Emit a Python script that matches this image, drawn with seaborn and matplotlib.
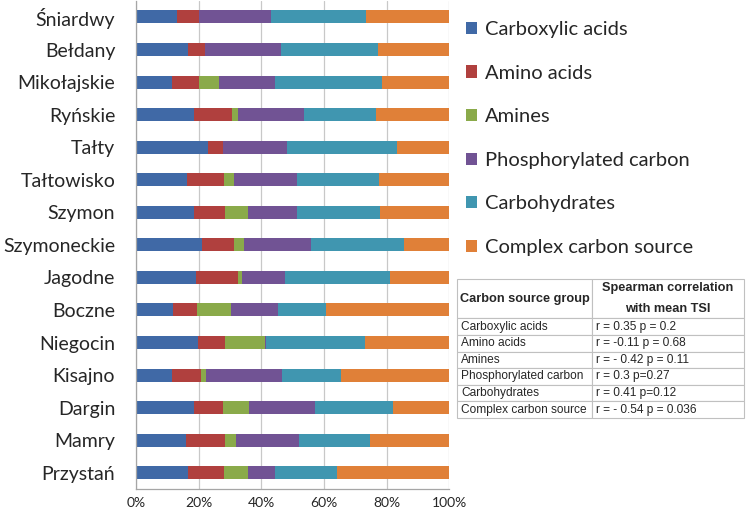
import numpy as np
import pandas as pd
import matplotlib
matplotlib.use("Agg")
import matplotlib.pyplot as plt
from matplotlib.patches import Patch
from matplotlib.ticker import FixedLocator, PercentFormatter
import seaborn as sns

lakes = ["Śniardwy", "Bełdany", "Mikołajskie", "Ryńskie", "Tałty", "Tałtowisko",
         "Szymon", "Szymoneckie", "Jagodne", "Boczne", "Niegocin", "Kisajno",
         "Dargin", "Mamry", "Przystań"]

groups = ["Carboxylic acids", "Amino acids", "Amines", "Phosphorylated carbon",
          "Carbohydrates", "Complex carbon source"]

carboxylic = [13.2, 16.6, 11.6, 18.4, 23.0, 16.3, 18.4, 20.9, 19.0, 11.8, 19.9, 11.6, 18.6, 15.9, 16.6]
amino = [6.8, 5.5, 8.5, 12.2, 4.6, 11.7, 10.0, 10.4, 13.6, 7.7, 8.5, 9.1, 9.3, 12.6, 11.4]
amines = [0.0, 0.0, 6.5, 1.8, 0.0, 3.2, 7.3, 3.1, 1.1, 10.9, 12.7, 1.6, 8.1, 3.3, 7.7]
phosphorylated = [23.0, 24.2, 17.8, 21.2, 20.5, 20.1, 15.7, 21.5, 13.9, 14.9, 0.3, 24.4, 21.0, 20.3, 8.6]
carbohydrates = [30.4, 30.9, 34.2, 23.0, 35.3, 26.1, 26.5, 29.5, 33.5, 15.4, 31.8, 18.8, 25.1, 22.6, 19.8]
complex_src = [26.6, 22.8, 21.4, 23.4, 16.6, 22.6, 22.1, 14.6, 18.9, 39.3, 26.8, 34.5, 17.9, 25.3, 35.9]

x_ticks = [0, 20, 40, 60, 80, 100]

table_rows = ["Carboxylic acids", "Amino acids", "Amines", "Phosphorylated carbon",
              "Carbohydrates", "Complex carbon source"]
table_vals = ["r = 0.35 p = 0.2", "r = -0.11 p = 0.68", "r = - 0.42 p = 0.11",
              "r = 0.3 p=0.27", "r = 0.41 p=0.12", "r = - 0.54 p = 0.036"]

colors = ["#4069A6", "#B0403E", "#8AAA4A", "#715394", "#4096B0", "#E08038"]

sns.set_style("white")
plt.rcParams["font.family"] = ["Lato", "DejaVu Sans"]

df = pd.DataFrame({"lake": lakes,
                   groups[0]: carboxylic, groups[1]: amino, groups[2]: amines,
                   groups[3]: phosphorylated, groups[4]: carbohydrates,
                   groups[5]: complex_src})
cum = df[groups].cumsum(axis=1)
cum = cum.div(cum[groups[-1]], axis=0) * 100

W, H = 747, 513
fig = plt.figure(figsize=(W / 100, H / 100), dpi=100)
ax = fig.add_axes([136 / W, (H - 489) / H, (449.5 - 136) / W, 488.3 / H])

# stacked bars: draw cumulative totals back to front
for g, c in reversed(list(zip(groups, colors))):
    sns.barplot(x=cum[g], y=df["lake"], color=c, orient="h", width=0.4,
                ax=ax, saturation=1, linewidth=0)

ax.set_xlim(0, 100)
ax.set_ylim(len(lakes) - 0.5, -0.5)
ax.set_xlabel("")
ax.set_ylabel("")
ax.xaxis.set_major_locator(FixedLocator(x_ticks))
ax.xaxis.set_major_formatter(PercentFormatter(decimals=0))
ax.grid(axis="x", color="#c8c8c8", linewidth=0.9)
ax.set_axisbelow(True)
for s in ["top", "right"]:
    ax.spines[s].set_visible(False)
for s in ["left", "bottom"]:
    ax.spines[s].set_color("#a6a6a6")
    ax.spines[s].set_linewidth(0.9)
ax.tick_params(axis="x", length=4, color="#a6a6a6", labelsize=10, pad=2)
ax.tick_params(axis="y", which="major", length=0, labelsize=14, pad=15)
ax.yaxis.set_minor_locator(FixedLocator(np.arange(-0.5, len(lakes), 1)))
ax.tick_params(axis="y", which="minor", length=4, color="#a6a6a6")

handles = [Patch(facecolor=c, edgecolor="none", label=g) for g, c in zip(groups, colors)]
fig.legend(handles=handles, loc="upper left", bbox_to_anchor=(466 / W, 1 - 21 / H),
           frameon=False, fontsize=14.5, handlelength=0.55, handleheight=0.55,
           handletextpad=0.4, labelspacing=1.32, borderpad=0, borderaxespad=0)

tax = fig.add_axes([457 / W, (H - 418) / H, (744 - 457) / W, (418 - 279) / H])
tax.axis("off")
tbl = tax.table(cellText=[[a, b] for a, b in zip(table_rows, table_vals)],
                colLabels=["Carbon source group", "Spearman correlation\nwith mean TSI"],
                colWidths=[0.47, 0.53], cellLoc="left", bbox=[0, 0, 1, 1])
tbl.auto_set_font_size(False)
for (r, c), cell in tbl.get_celld().items():
    cell.set_edgecolor("#c0c0c0")
    cell.set_linewidth(0.8)
    cell.PAD = 0.03
    txt = cell.get_text()
    txt.set_fontfamily(["Liberation Sans", "DejaVu Sans"])
    txt.set_fontsize(8.6)
    if r == 0:
        cell.set_height(39)
        txt.set_fontweight("bold")
        txt.set_fontsize(9.2)
        if c == 1:
            txt.set_horizontalalignment("center")
            cell._loc = "center"
            txt.set_linespacing(2.0)
    else:
        cell.set_height(16.5)

fig.savefig("out.png", dpi=100)
